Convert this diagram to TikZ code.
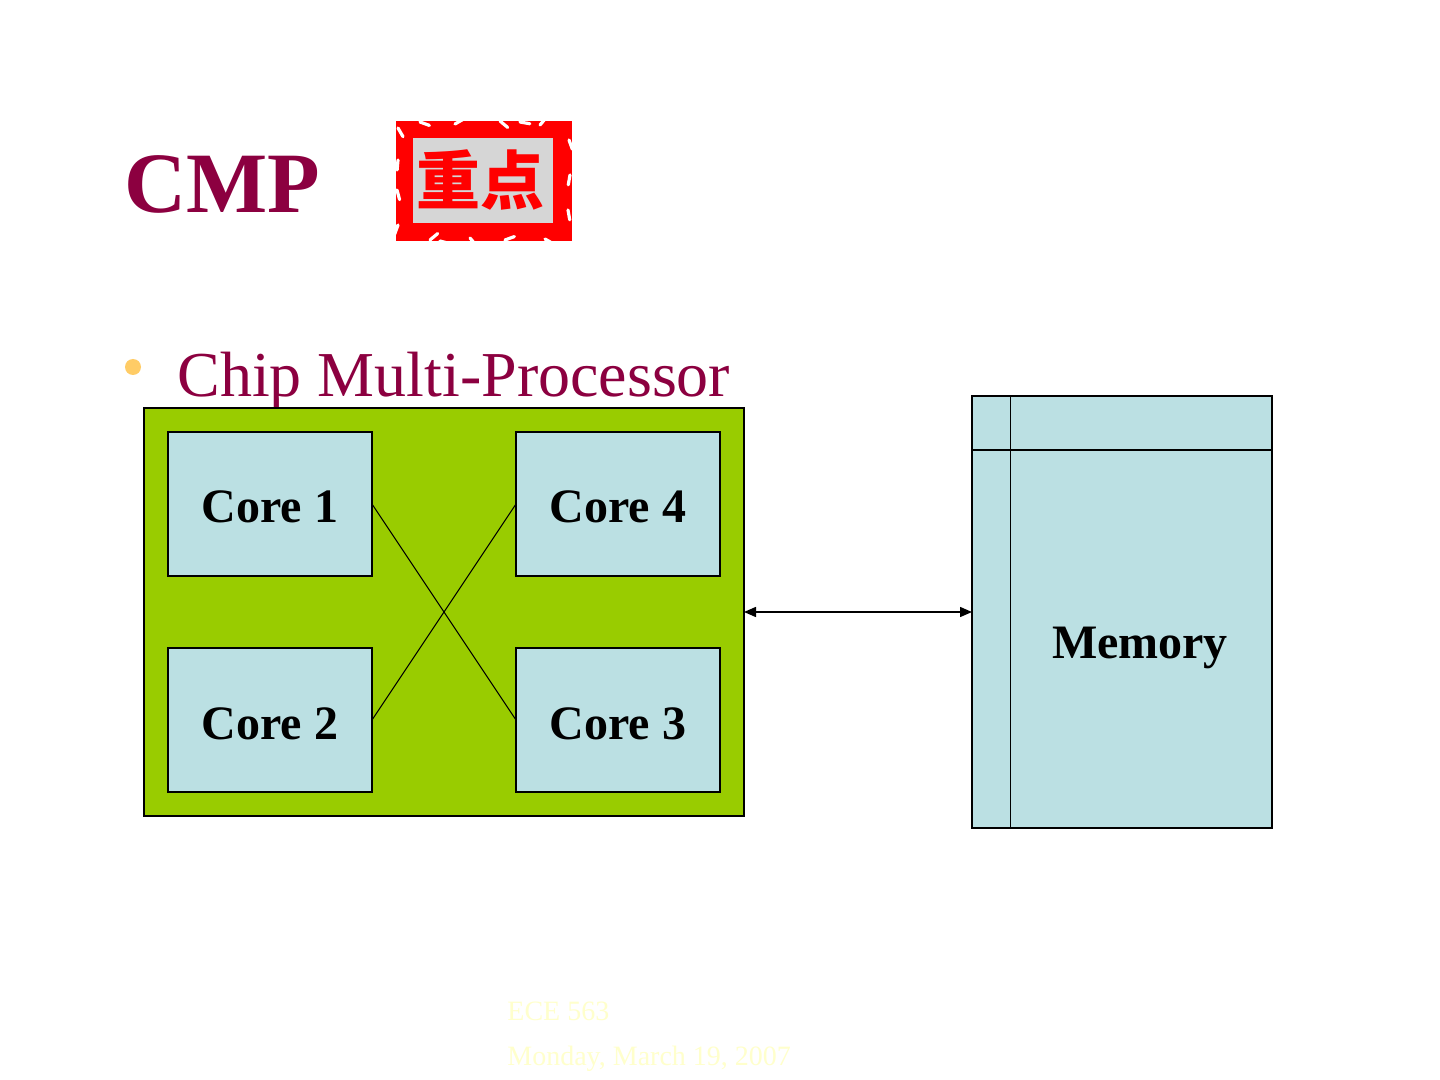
\documentclass[tikz,border=0pt]{standalone}
\usepackage{fontspec}
\setmainfont{Liberation Serif}
\newfontfamily\cjk{Noto Sans CJK SC}
\usetikzlibrary{positioning, arrows.meta}
\definecolor{titlered}{RGB}{140,0,64}
\definecolor{chipgreen}{RGB}{153,204,0}
\definecolor{corecyan}{RGB}{187,224,227}
\definecolor{bulletorange}{RGB}{255,204,102}
\definecolor{footyellow}{RGB}{255,255,204}
\definecolor{stampgrey}{RGB}{214,214,214}
\tikzset{
    corebox/.style={draw=black, line width=1pt, fill=corecyan, minimum width=102pt,
        minimum height=72pt, inner sep=0pt, outer sep=0pt, text height=19pt, text depth=0pt,
        font=\fontsize{24}{28}\selectfont\bfseries},
    footer/.style={anchor=base west, text=footyellow, font=\fontsize{14}{16}\selectfont}
}
\begin{document}
\begin{tikzpicture}[x=0.5pt, y=-0.5pt]
            \useasboundingbox[fill=white] (0,0) rectangle (1440,1080);
            % title and stamp
            \node[anchor=base west, inner sep=0pt, text=titlered,
                font=\fontsize{43}{50}\selectfont\bfseries] (title) at (124,213) {CMP};
            \node[fill=red, minimum width=88pt, minimum height=60pt, inner sep=0pt] (stamp) at (484,181) {};
            \foreach \x/\y/\a in {398/128/60, 420/122/20, 455/124/-30, 500/121/40, 540/125/-50,
                    569/140/70, 570/175/100, 568/210/80, 545/239/30, 505/240/-20, 470/238/50,
                    430/240/-40, 398/225/110, 397/190/75, 398/160/95, 520/122/10, 440/241/15}{%
                    \draw[white, line width=1.6pt, line cap=round] (\x,\y) -- ++(\a:10);
                }
            \node[fill=stampgrey, minimum width=70pt, minimum height=42.5pt, inner sep=0pt] (stampin) at (483,180.5) {};
            \node[text=red, font=\fontsize{32}{36}\cjk\bfseries, inner sep=0pt] at (480,180) {重点};
            % bullet
            \fill[bulletorange] (133,367) circle (4pt);
            \node[anchor=base west, inner sep=0pt, text=titlered,
                font=\fontsize{32}{38}\selectfont] (bullet) at (177,397) {Chip Multi-Processor};
            % chip with four cores
            \node[draw=black, line width=1pt, fill=chipgreen, minimum width=300pt, minimum height=204pt,
                inner sep=0pt, outer sep=0pt] (chip) at (444,612) {};
            \node[corebox] (core1) at (270,504) {Core 1};
            \node[corebox] (core4) at (618,504) {Core 4};
            \node[corebox] (core2) at (270,720) {Core 2};
            \node[corebox] (core3) at (618,720) {Core 3};
            \draw[line width=0.5pt] (core1.east) -- (core3.west);
            \draw[line width=0.5pt] (core2.east) -- (core4.west);
            % memory
            \node[draw=black, line width=1pt, fill=corecyan, minimum width=150pt, minimum height=216pt,
                inner sep=0pt, outer sep=0pt] (mem) at (1122,612) {};
            \coordinate (memtop) at (1010,396);
            \coordinate (memleft) at (972,450);
            \draw[line width=0.5pt] (memtop) -- (memtop |- mem.south);
            \draw[line width=1pt] (memleft) -- (memleft -| mem.east);
            \node[anchor=base, inner sep=0pt, font=\fontsize{24}{28}\selectfont\bfseries] (memlabel) at (1140,658) {Memory};
            \draw[line width=0.75pt, {Triangle[length=6pt,width=5pt]}-{Triangle[length=6pt,width=5pt]}] (chip) -- (mem);
            % footer
            \node[footer, inner sep=0pt] (course) at (507,1020) {ECE 563};
            \node[footer, inner sep=0pt] (date) at (507,1065) {Monday, March 19, 2007};
        \end{tikzpicture}
\end{document}
